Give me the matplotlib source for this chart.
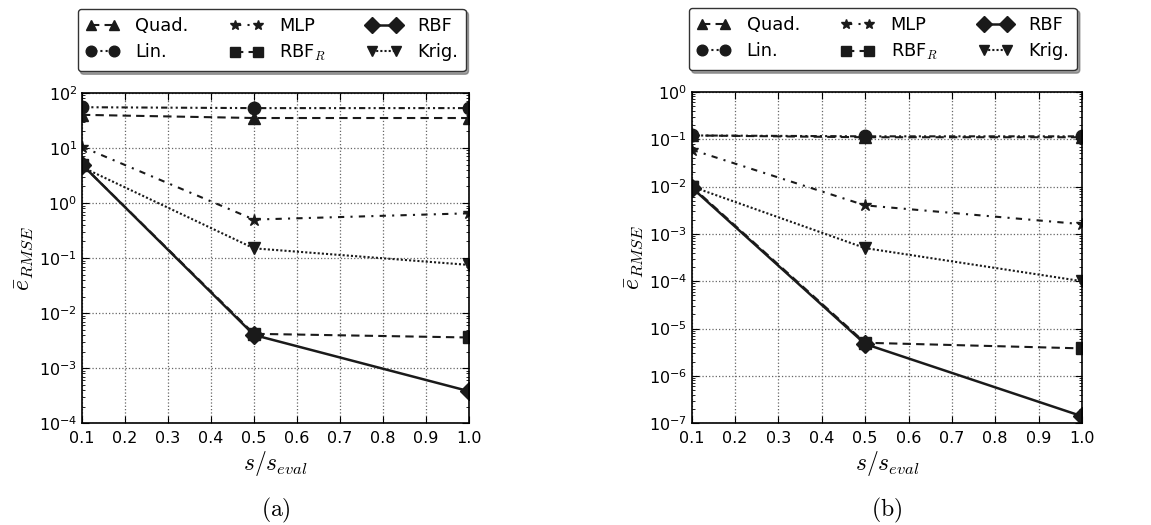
import numpy as np
import matplotlib
matplotlib.use("Agg")
import matplotlib.pyplot as plt

plt.rcParams['mathtext.fontset'] = 'cm'
plt.rcParams['font.family'] = ['DejaVu Sans']

s_ratio = [0.1, 0.5, 1.0]

# mean RMSE per surrogate, case (a)
quad_a = [40, 35, 35]
lin_a = [55, 53, 53]
mlp_a = [10.5, 0.5, 0.65]
rbfr_a = [5.0, 4.2e-3, 3.6e-3]
rbf_a = [5.0, 4.0e-3, 3.8e-4]
krig_a = [4.5, 0.15, 0.075]

# mean RMSE per surrogate, case (b)
quad_b = [0.12, 0.11, 0.11]
lin_b = [0.12, 0.115, 0.115]
mlp_b = [0.06, 4.0e-3, 1.6e-3]
rbfr_b = [0.01, 5.0e-6, 3.8e-6]
rbf_b = [0.0095, 4.7e-6, 1.4e-7]
krig_b = [0.01, 5.0e-4, 1.0e-4]

labels = ['Quad.', 'Lin.', 'MLP', r'RBF$_R$', 'RBF', 'Krig.']
x_ticks = [0.1, 0.2, 0.3, 0.4, 0.5, 0.6, 0.7, 0.8, 0.9, 1.0]

ink = '#1a1a1a'
styles = [
    dict(ls=(0, (4, 2.5)), marker='^'),
    dict(ls=(0, (3, 1.5, 1, 1.5, 1, 1.5)), marker='o'),
    dict(ls=(0, (3, 3, 1, 3)), marker='*'),
    dict(ls=(0, (4, 2.5)), marker='s'),
    dict(ls='-', marker='D'),
    dict(ls=(0, (1, 1)), marker='v'),
]
msizes = [8, 9, 9, 8, 9, 9]

fig = plt.figure(figsize=(11.51, 5.25), dpi=100)
ax_a = fig.add_axes([0.0712, 0.194, 0.3363, 0.629])
ax_b = fig.add_axes([0.601, 0.194, 0.339, 0.631])


def draw(ax, series, ylim, tag):
    # draw order: lower curves last so their markers sit on top
    order = [0, 1, 2, 5, 3, 4]
    handles = [None] * 6
    for i in order:
        st = styles[i]
        h, = ax.plot(s_ratio, series[i], color=ink, lw=1.8 if st['ls'] == '-' else 1.5,
                     linestyle=st['ls'], marker=st['marker'], ms=msizes[i],
                     mfc=ink, mec=ink, label=labels[i])
        handles[i] = h
    ax.set_yscale('log')
    ax.set_xlim(0.1, 1.0)
    ax.set_ylim(*ylim)
    ax.set_xticks(x_ticks)
    ax.set_xticklabels(['%.1f' % v for v in x_ticks])
    ax.grid(True, which='major', ls=':', color='#666666', lw=0.9)
    ax.tick_params(which='both', direction='in', top=True, right=True, labelsize=11.5)
    ax.tick_params(which='major', length=5)
    ax.tick_params(which='minor', length=2.5)
    ax.tick_params(axis='x', pad=6)
    for sp in ax.spines.values():
        sp.set_linewidth(1.2)
    ax.set_xlabel(r'$s/s_{eval}$', fontsize=17, labelpad=2)
    ax.set_ylabel(r'$\bar{e}_{RMSE}$', fontsize=17, labelpad=2)
    ax.text(0.5, -0.264, tag, transform=ax.transAxes, ha='center', va='center',
            fontsize=17)
    # legend in column order: Quad/Lin, MLP/RBF_R, RBF/Krig
    leg = ax.legend(handles=handles, loc='lower center', bbox_to_anchor=(0.49, 1.038),
                    ncol=3, numpoints=2, handlelength=1.9, fontsize=12.8,
                    markerscale=0.85, frameon=True, fancybox=True, shadow=True,
                    edgecolor='#333333', columnspacing=2.3, handletextpad=0.9,
                    borderpad=0.45, labelspacing=0.48)
    leg.get_frame().set_linewidth(1.0)


draw(ax_a, [quad_a, lin_a, mlp_a, rbfr_a, rbf_a, krig_a], (1e-4, 1e2), r'$\mathrm{(a)}$')
draw(ax_b, [quad_b, lin_b, mlp_b, rbfr_b, rbf_b, krig_b], (1e-7, 1e0), r'$\mathrm{(b)}$')

fig.savefig('out.png', dpi=100)
